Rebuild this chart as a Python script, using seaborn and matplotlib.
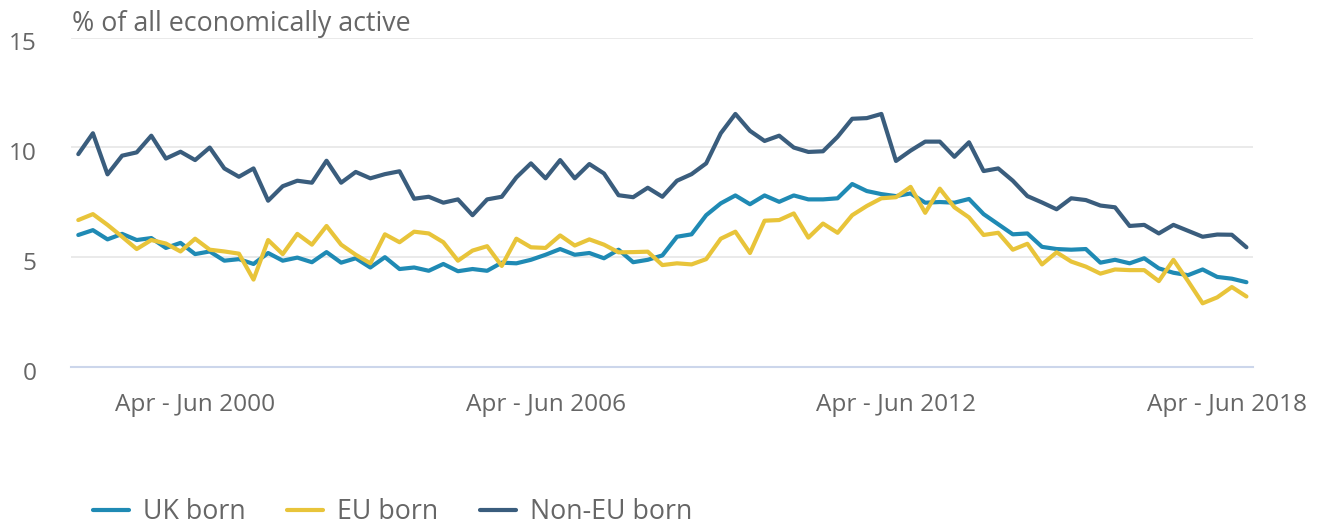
import numpy as np
import pandas as pd
import matplotlib
matplotlib.use("Agg")
import matplotlib.pyplot as plt
import matplotlib.transforms as mtransforms
import seaborn as sns

# quarterly periods, Apr - Jun 1998 to Apr - Jun 2018
QUARTERS = ["Jan - Mar", "Apr - Jun", "Jul - Sep", "Oct - Dec"]
periods = [f"{QUARTERS[(1 + i) % 4]} {1998 + (1 + i) // 4}" for i in range(81)]

uk_born = [6.01, 6.23, 5.81, 6.06, 5.78, 5.87, 5.42, 5.65, 5.14, 5.26,
           4.84, 4.91, 4.69, 5.19, 4.84, 4.98, 4.77, 5.23, 4.75, 4.95,
           4.53, 5.00, 4.46, 4.53, 4.38, 4.69, 4.36, 4.46, 4.38, 4.75,
           4.72, 4.88, 5.11, 5.37, 5.11, 5.19, 4.95, 5.34, 4.77, 4.88,
           5.08, 5.93, 6.04, 6.91, 7.45, 7.81, 7.41, 7.81, 7.52, 7.81,
           7.63, 7.63, 7.68, 8.33, 8.01, 7.87, 7.78, 7.90, 7.48, 7.51,
           7.48, 7.65, 6.96, 6.50, 6.04, 6.08, 5.47, 5.37, 5.34, 5.37,
           4.75, 4.88, 4.72, 4.95, 4.49, 4.29, 4.18, 4.44, 4.10, 4.02,
           3.86]

eu_born = [6.69, 6.96, 6.47, 5.93, 5.37, 5.78, 5.62, 5.26, 5.84, 5.34,
           5.26, 5.16, 3.98, 5.78, 5.14, 6.06, 5.57, 6.42, 5.57, 5.11,
           4.72, 6.04, 5.68, 6.16, 6.08, 5.68, 4.84, 5.30, 5.50, 4.60,
           5.84, 5.45, 5.42, 5.99, 5.53, 5.81, 5.57, 5.22, 5.23, 5.25,
           4.64, 4.72, 4.67, 4.91, 5.84, 6.16, 5.19, 6.66, 6.69, 6.99,
           5.89, 6.53, 6.11, 6.91, 7.33, 7.68, 7.73, 8.20, 7.02, 8.12,
           7.27, 6.81, 6.01, 6.11, 5.34, 5.61, 4.67, 5.22, 4.80, 4.57,
           4.25, 4.44, 4.41, 4.41, 3.91, 4.88, 3.91, 2.90, 3.17, 3.64,
           3.21]

non_eu_born = [9.69, 10.64, 8.77, 9.62, 9.77, 10.53, 9.49, 9.80, 9.42, 9.99,
               9.04, 8.66, 9.04, 7.57, 8.23, 8.48, 8.39, 9.39, 8.39, 8.88,
               8.59, 8.78, 8.91, 7.66, 7.75, 7.48, 7.63, 6.91, 7.63, 7.75,
               8.63, 9.27, 8.59, 9.42, 8.59, 9.24, 8.81, 7.82, 7.73, 8.16,
               7.75, 8.48, 8.78, 9.27, 10.64, 11.52, 10.75, 10.29, 10.53, 9.99,
               9.79, 9.82, 10.48, 11.30, 11.33, 11.52, 9.38, 9.85, 10.26, 10.26,
               9.57, 10.23, 8.92, 9.04, 8.48, 7.78, 7.49, 7.18, 7.68, 7.60,
               7.35, 7.27, 6.42, 6.47, 6.08, 6.47, 6.20, 5.93, 6.03, 6.02,
               5.45]

series_names = ["UK born", "EU born", "Non-EU born"]
colours = ["#1f8ab4", "#e8c43a", "#3a5d7d"]
tick_labels = ["Apr - Jun 2000", "Apr - Jun 2006", "Apr - Jun 2012", "Apr - Jun 2018"]

frames = []
for name, vals in zip(series_names, [uk_born, eu_born, non_eu_born]):
    frames.append(pd.DataFrame({"period": periods, "idx": np.arange(len(periods)),
                                "series": name, "value": vals}))
df = pd.concat(frames, ignore_index=True)

sns.set_style("white")
plt.rcParams["font.family"] = ["Open Sans", "DejaVu Sans"]
TEXT = "#666666"
TICK_FS = 17.6
BIG_FS = 19.3

fig = plt.figure(figsize=(13.2, 5.24), dpi=100)
ax = fig.add_axes([71 / 1320, 1 - 367 / 524, (1253 - 71) / 1320, (367 - 37.5) / 524])

sns.lineplot(data=df, x="idx", y="value", hue="series", hue_order=series_names,
             palette=dict(zip(series_names, colours)), linewidth=3, ax=ax)

ax.set_xlim(-0.5, 80.45)
ax.set_ylim(0, 15)
ax.set_yticks([0, 5, 10, 15])
ax.grid(axis="y", color="#e6e6e6", linewidth=1.2)
ax.set_axisbelow(True)
for side in ["top", "right", "left"]:
    ax.spines[side].set_visible(False)
ax.spines["bottom"].set_color("#ccd6eb")
ax.spines["bottom"].set_linewidth(1.5)

tick_pos = [periods.index(t) for t in tick_labels]
ax.set_xticks(tick_pos)
ax.set_xticklabels(tick_labels)
ax.tick_params(axis="x", length=14.5, width=1.5, color="#ccd6eb", pad=4,
               labelsize=TICK_FS, labelcolor=TEXT)
ax.tick_params(axis="y", length=0, pad=25, labelsize=TICK_FS, labelcolor=TEXT)
ax.set_xlabel("")
ax.set_ylabel("")

# y labels sit a little below their gridlines
shift = mtransforms.ScaledTranslation(0, -4 / 100, fig.dpi_scale_trans)
for lab in ax.get_yticklabels():
    lab.set_transform(lab.get_transform() + shift)

# last x label is pulled left so it stays inside the chart
last = ax.get_xticklabels()[-1]
last.set_transform(last.get_transform()
                   + mtransforms.ScaledTranslation(-19 / 100, 0, fig.dpi_scale_trans))

fig.text(72 / 1320, 1 - 31 / 524, "% of all economically active", fontsize=BIG_FS,
         color=TEXT, ha="left", va="baseline")

sns.move_legend(ax, "center left", bbox_to_anchor=(93 / 1320, 12 / 524),
                bbox_transform=fig.transFigure, ncol=3, frameon=False, title=None,
                fontsize=BIG_FS, handlelength=1.35, handletextpad=0.52,
                columnspacing=1.55, borderpad=0, borderaxespad=0)
for t in ax.get_legend().get_texts():
    t.set_color(TEXT)
for h in ax.get_legend().get_lines():
    h.set_linewidth(3)

fig.savefig("out.png", dpi=100)
